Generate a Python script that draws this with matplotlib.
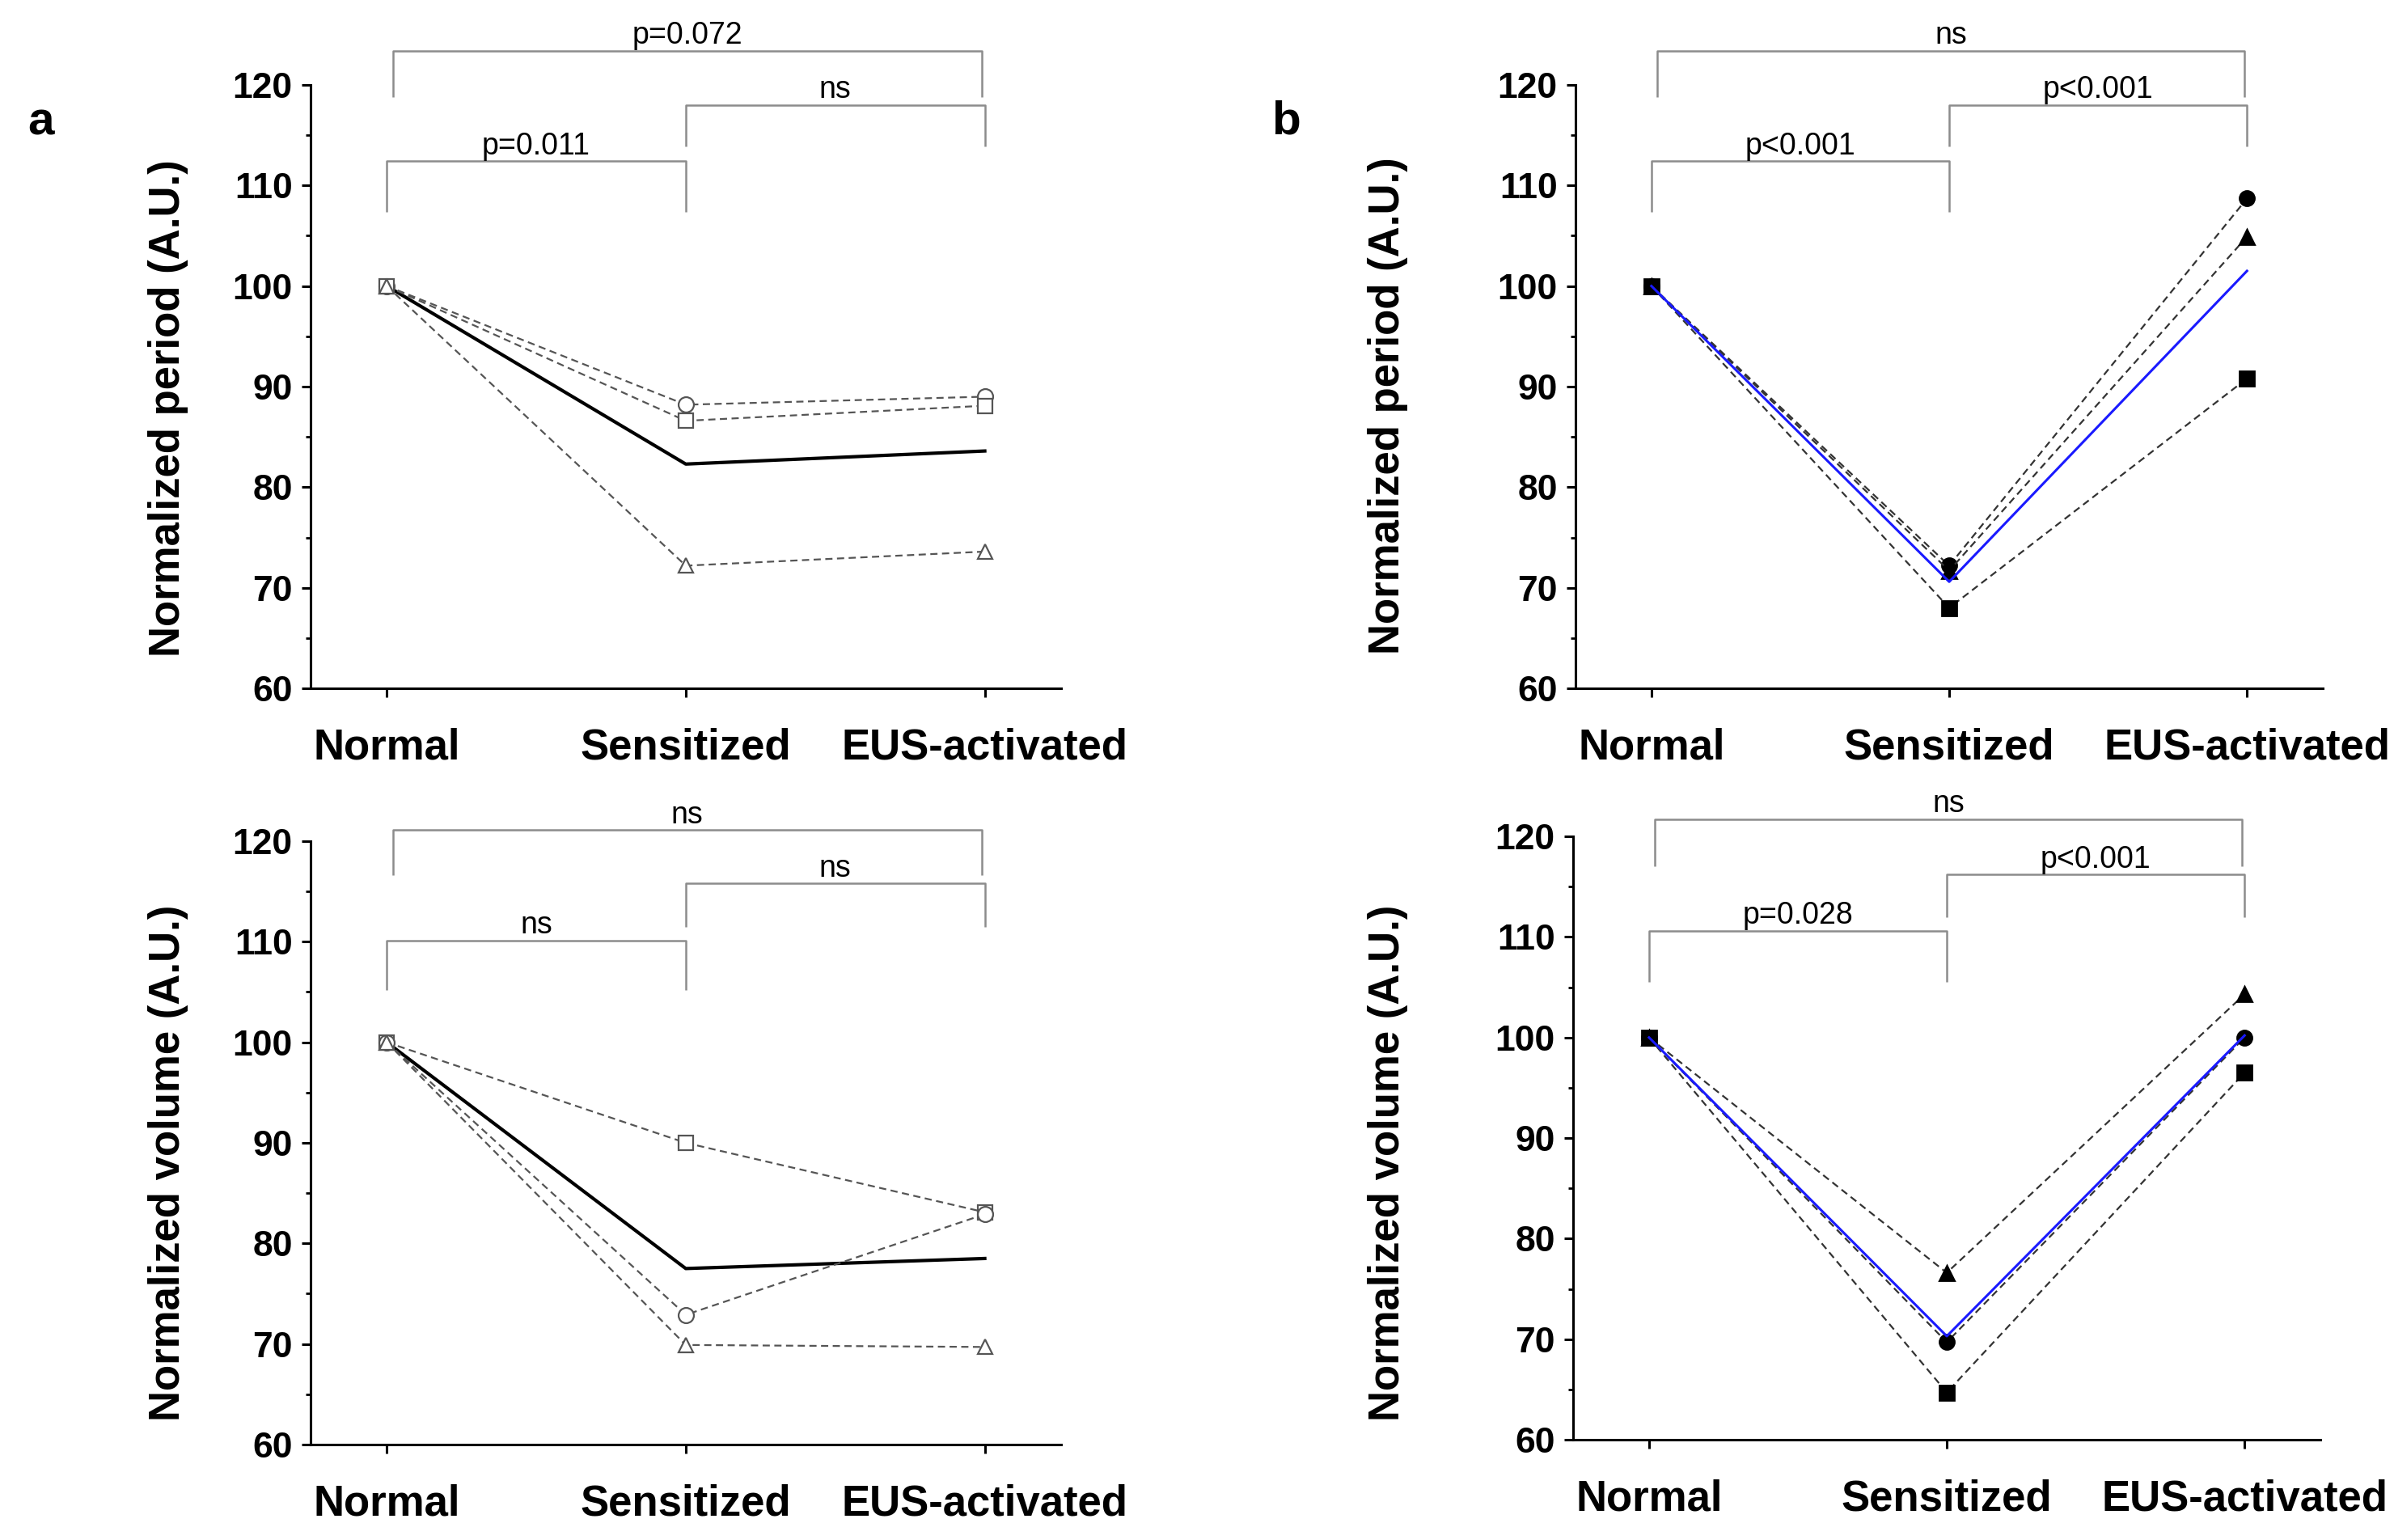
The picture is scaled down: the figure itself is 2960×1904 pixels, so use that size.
import matplotlib
matplotlib.use('Agg')
import matplotlib.pyplot as plt
from matplotlib.ticker import MultipleLocator

plt.rcParams['font.family'] = ['Liberation Sans', 'DejaVu Sans']

categories = ['Normal', 'Sensitized', 'EUS-activated']
xpos = [0, 1, 2]

# panel a - period (open markers, black mean)
a_period_circle = [100, 88.2, 89.0]
a_period_square = [100, 86.6, 88.1]
a_period_triangle = [100, 72.2, 73.6]
a_period_mean = [100, 82.3, 83.6]

# panel a - volume
a_volume_square = [100, 90.0, 83.1]
a_volume_circle = [100, 72.9, 82.9]
a_volume_triangle = [100, 69.9, 69.7]
a_volume_mean = [100, 77.5, 78.5]

# panel b - period (filled markers, blue mean)
b_period_circle = [100, 72.2, 108.7]
b_period_triangle = [100, 71.7, 104.9]
b_period_square = [100, 68.0, 90.8]
b_period_mean = [100, 70.6, 101.5]

# panel b - volume
b_volume_circle = [100, 69.7, 100.0]
b_volume_triangle = [100, 76.6, 104.3]
b_volume_square = [100, 64.7, 96.5]
b_volume_mean = [100, 70.3, 100.2]

# significance labels: (Normal-Sens, Sens-EUS, Normal-EUS)
a_period_sig = ['p=0.011', 'ns', 'p=0.072']
a_volume_sig = ['ns', 'ns', 'ns']
b_period_sig = ['p<0.001', 'p<0.001', 'ns']
b_volume_sig = ['p=0.028', 'p<0.001', 'ns']


def bracket(ax, x0, x1, y_top, y_leg, text):
    ax.plot([x0, x0, x1, x1], [y_leg, y_top, y_top, y_leg], color='#8c8c8c',
            lw=0.9, clip_on=False, solid_capstyle='butt')
    ax.text((x0 + x1) / 2, y_top + 0.05, text, ha='center', va='bottom',
            fontsize=13.5, clip_on=False)


def style_axes(ax):
    ax.set_xlim(-0.255, 2.255)
    ax.set_ylim(60, 120)
    ax.set_xticks(xpos)
    ax.set_xticklabels(categories)
    ax.yaxis.set_major_locator(MultipleLocator(10))
    ax.yaxis.set_minor_locator(MultipleLocator(5))
    for s in ['top', 'right']:
        ax.spines[s].set_visible(False)
    for s in ['left', 'bottom']:
        ax.spines[s].set_linewidth(1.1)
    ax.tick_params(axis='y', which='major', length=4, width=1.1, labelsize=16, pad=4)
    ax.tick_params(axis='y', which='minor', length=2.2, width=1.0)
    ax.tick_params(axis='x', which='major', length=4, width=1.1, labelsize=19, pad=13.5)
    for lab in ax.get_xticklabels() + ax.get_yticklabels():
        lab.set_fontweight('bold')


def add_brackets(ax, sig, levels):
    (t1, l1), (t2, l2), (t3, l3) = levels
    bracket(ax, 0, 1, t1, l1, sig[0])
    bracket(ax, 1, 2, t2, l2, sig[1])
    bracket(ax, 0.02, 1.99, t3, l3, sig[2])


fig = plt.figure(figsize=(14.8, 9.52), dpi=200)

ax1 = fig.add_axes([0.1297, 0.5530, 0.3135, 0.3919])
ax2 = fig.add_axes([0.6581, 0.5530, 0.3122, 0.3919])
ax3 = fig.add_axes([0.1297, 0.0620, 0.3135, 0.3918])
ax4 = fig.add_axes([0.6571, 0.0651, 0.3122, 0.3918])

dash = dict(ls='--', dashes=(4, 2.5), lw=0.8)

# panel a
for ax, series, m in [(ax1, [(a_period_circle, 'o'), (a_period_square, 's'), (a_period_triangle, '^')], a_period_mean),
                      (ax3, [(a_volume_square, 's'), (a_volume_circle, 'o'), (a_volume_triangle, '^')], a_volume_mean)]:
    ax.plot(xpos, m, color='black', lw=1.5, zorder=3)
    for vals, mk in series:
        ax.plot(xpos, vals, color='#555555', marker=mk, ms=6.8, mfc='white',
                mec='#555555', mew=0.8, zorder=4, **dash)

# panel b
for ax, c, t, s, m in [(ax2, b_period_circle, b_period_triangle, b_period_square, b_period_mean),
                       (ax4, b_volume_circle, b_volume_triangle, b_volume_square, b_volume_mean)]:
    for vals, mk in [(c, 'o'), (t, '^'), (s, 's')]:
        ax.plot(xpos, vals, color='#333333', marker=mk, ms=6.5, mfc='black',
                mec='black', zorder=3, **dash)
    ax.plot(xpos, m, color='#1a1aff', lw=1.1, zorder=4)

for ax in [ax1, ax2, ax3, ax4]:
    style_axes(ax)

add_brackets(ax1, a_period_sig, [(112.4, 107.4), (118.0, 113.9), (123.4, 118.8)])
add_brackets(ax2, b_period_sig, [(112.4, 107.4), (118.0, 113.9), (123.4, 118.8)])
add_brackets(ax3, a_volume_sig, [(110.1, 105.2), (115.8, 111.5), (121.1, 116.6)])
add_brackets(ax4, b_volume_sig, [(110.6, 105.5), (116.2, 112.0), (121.7, 117.0)])

ylab = dict(rotation=90, ha='center', va='center', fontsize=19, fontweight='bold')
fig.text(208 / 2960, 1 - 505 / 1904, 'Normalized period (A.U.)', **ylab)
fig.text(1716 / 2960, 1 - 502 / 1904, 'Normalized period (A.U.)', **ylab)
fig.text(208 / 2960, 1 - 1438 / 1904, 'Normalized volume (A.U.)', **ylab)
fig.text(1716 / 2960, 1 - 1438 / 1904, 'Normalized volume (A.U.)', **ylab)

fig.text(50 / 2960, 1 - 152 / 1904, 'a', ha='center', va='center', fontsize=21, fontweight='bold')
fig.text(1590 / 2960, 1 - 150 / 1904, 'b', ha='center', va='center', fontsize=21, fontweight='bold')

fig.savefig('out.png', dpi=200, facecolor='white')
